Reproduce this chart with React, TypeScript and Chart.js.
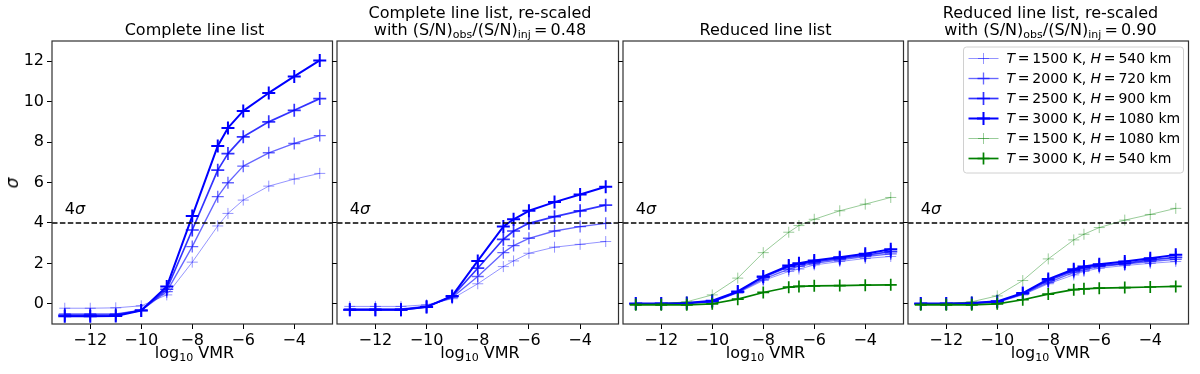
import React, { useEffect, useRef } from 'react';
import { Chart, registerables } from 'chart.js';

Chart.register(...registerables);

// ---------- data ----------
const LOG_VMR = [-13, -12, -11, -10, -9, -8, -7, -6.6, -6, -5, -4, -3];
const X_TICKS = [-12, -10, -8, -6, -4];
const Y_TICKS = [0, 2, 4, 6, 8, 10, 12];
const X_MIN = -13.5;
const X_MAX = -2.5;
const Y_MIN = -1;
const Y_MAX = 13;
const THRESHOLD = 4;
const THRESHOLD_LABEL_X = -13;
const THRESHOLD_LABEL_Y = 4.45;

const SERIES_T = [1500, 2000, 2500, 3000, 1500, 3000];
const SERIES_H = [540, 720, 900, 1080, 1080, 540];

// Complete line list
const COMPLETE_1500 = [-0.22, -0.22, -0.2, -0.1, 0.44, 2.06, 3.85, 4.47, 5.13, 5.82, 6.17, 6.45];
const COMPLETE_2000 = [-0.5, -0.5, -0.5, -0.32, 0.6, 2.83, 5.3, 5.99, 6.81, 7.47, 7.93, 8.32];
const COMPLETE_2500 = [-0.56, -0.56, -0.55, -0.33, 0.72, 3.65, 6.61, 7.43, 8.26, 9.0, 9.57, 10.15];
const COMPLETE_3000 = [-0.62, -0.62, -0.6, -0.33, 0.85, 4.34, 7.81, 8.7, 9.54, 10.43, 11.25, 12.04];

// Complete line list, re-scaled (0.48)
const COMPLETE_RS_1500 = [-0.13, -0.13, -0.13, -0.05, 0.25, 0.99, 1.84, 2.12, 2.5, 2.8, 2.94, 3.08];
const COMPLETE_RS_2000 = [-0.25, -0.25, -0.25, -0.12, 0.31, 1.35, 2.53, 2.88, 3.24, 3.6, 3.82, 3.98];
const COMPLETE_RS_2500 = [-0.3, -0.3, -0.3, -0.15, 0.36, 1.76, 3.19, 3.6, 3.98, 4.31, 4.6, 4.88];
const COMPLETE_RS_3000 = [-0.3, -0.3, -0.3, -0.16, 0.39, 2.12, 3.82, 4.18, 4.6, 5.03, 5.41, 5.79];

// Reduced line list
const REDUCED_1500 = [0, 0, 0.02, 0.08, 0.53, 1.15, 1.6, 1.72, 1.92, 2.09, 2.24, 2.34];
const REDUCED_2000 = [0, 0, 0.02, 0.1, 0.56, 1.22, 1.71, 1.85, 2.0, 2.17, 2.34, 2.47];
const REDUCED_2500 = [0, 0, 0.03, 0.12, 0.58, 1.32, 1.84, 1.95, 2.07, 2.24, 2.4, 2.58];
const REDUCED_3000 = [0.02, 0.02, 0.04, 0.15, 0.61, 1.35, 1.89, 2.0, 2.14, 2.3, 2.47, 2.7];
const REDUCED_1500_H1080 = [0, 0, 0.1, 0.44, 1.27, 2.53, 3.54, 3.87, 4.18, 4.6, 4.93, 5.26];
const REDUCED_3000_H540 = [-0.05, -0.05, -0.05, 0, 0.23, 0.56, 0.82, 0.86, 0.89, 0.9, 0.92, 0.94];

// Reduced line list, re-scaled (0.90)
const REDUCED_RS_1500 = [0, 0, 0.02, 0.06, 0.44, 0.99, 1.43, 1.6, 1.76, 1.89, 2.0, 2.09];
const REDUCED_RS_2000 = [0, 0, 0.02, 0.08, 0.48, 1.05, 1.55, 1.68, 1.84, 1.96, 2.09, 2.2];
const REDUCED_RS_2500 = [0, 0, 0.03, 0.1, 0.5, 1.15, 1.64, 1.78, 1.89, 2.0, 2.17, 2.3];
const REDUCED_RS_3000 = [0.02, 0.02, 0.04, 0.12, 0.53, 1.22, 1.71, 1.84, 1.96, 2.09, 2.25, 2.42];
const REDUCED_RS_1500_H1080 = [0, 0, 0.1, 0.39, 1.15, 2.22, 3.16, 3.44, 3.77, 4.14, 4.42, 4.72];
const REDUCED_RS_3000_H540 = [-0.05, -0.05, -0.05, 0, 0.2, 0.48, 0.7, 0.74, 0.77, 0.8, 0.83, 0.86];

// ---------- styles ----------
const STYLES = [
  { color: 'rgba(0,0,255,0.42)', width: 1.0, radius: 5.5 },
  { color: 'rgba(0,0,255,0.6)', width: 1.35, radius: 6 },
  { color: 'rgba(0,0,255,0.8)', width: 1.7, radius: 6.5 },
  { color: 'rgba(0,0,255,1)', width: 2.0, radius: 6.5 },
  { color: 'rgba(0,128,0,0.4)', width: 1.0, radius: 5.5 },
  { color: 'rgba(0,128,0,1)', width: 1.7, radius: 6 },
];

const FONT = "'DejaVu Sans', sans-serif";
Chart.defaults.font.family = FONT;
Chart.defaults.color = '#000';

const PANEL_LEFT = [52, 337, 623, 908];
const PANEL_RIGHT = [337, 623, 908, 1193];
const AXIS_W = 52;
const PLOT_TOP = 41;
const PLOT_BOTTOM = 324;
const H = 374;

const fmt = (v: number) => (v < 0 ? '\u2212' + Math.abs(v) : String(v));

const framePlugin = {
  id: 'frame',
  afterDraw(chart: any) {
    const { ctx, chartArea } = chart;
    const { left, top, right, bottom } = chartArea;
    ctx.save();
    ctx.strokeStyle = '#303030';
    ctx.lineWidth = 1.2;
    ctx.strokeRect(left, top, right - left, bottom - top);
    ctx.restore();
  },
};

const annotPlugin = {
  id: 'annot',
  afterDatasetsDraw(chart: any) {
    const { ctx } = chart;
    const x = chart.scales.x.getPixelForValue(THRESHOLD_LABEL_X);
    const y = chart.scales.y.getPixelForValue(THRESHOLD_LABEL_Y);
    ctx.save();
    ctx.fillStyle = '#000';
    ctx.textBaseline = 'alphabetic';
    ctx.textAlign = 'left';
    ctx.font = `16px ${FONT}`;
    ctx.fillText(String(THRESHOLD), x, y);
    const w = ctx.measureText(String(THRESHOLD)).width;
    ctx.font = `italic 16px ${FONT}`;
    ctx.fillText('\u03c3', x + w, y);
    ctx.restore();
  },
};

const legendPlugin = {
  id: 'customLegend',
  afterDraw(chart: any) {
    const { ctx, chartArea } = chart;
    const boxW = 220;
    const boxH = 126;
    const x0 = chartArea.right - 5 - boxW;
    const y0 = chartArea.top + 6;
    ctx.save();
    ctx.beginPath();
    const r = 3;
    ctx.moveTo(x0 + r, y0);
    ctx.arcTo(x0 + boxW, y0, x0 + boxW, y0 + boxH, r);
    ctx.arcTo(x0 + boxW, y0 + boxH, x0, y0 + boxH, r);
    ctx.arcTo(x0, y0 + boxH, x0, y0, r);
    ctx.arcTo(x0, y0, x0 + boxW, y0, r);
    ctx.closePath();
    ctx.fillStyle = 'rgba(255,255,255,0.85)';
    ctx.fill();
    ctx.strokeStyle = '#d0d0d0';
    ctx.lineWidth = 1;
    ctx.stroke();
    SERIES_T.forEach((t, k) => {
      const st = STYLES[k];
      const cy = y0 + 11.5 + 20 * k;
      const lx0 = x0 + 5;
      const lx1 = x0 + 35;
      const cx = (lx0 + lx1) / 2;
      ctx.strokeStyle = st.color;
      ctx.lineWidth = st.width;
      ctx.beginPath();
      ctx.moveTo(lx0, cy);
      ctx.lineTo(lx1, cy);
      ctx.stroke();
      ctx.beginPath();
      ctx.moveTo(cx, cy - st.radius);
      ctx.lineTo(cx, cy + st.radius);
      ctx.moveTo(cx - st.radius, cy);
      ctx.lineTo(cx + st.radius, cy);
      ctx.stroke();
      const segs = [
        { s: 'T', it: true },
        { s: '\u2009=\u2009' + t + ' K, ', it: false },
        { s: 'H', it: true },
        { s: '\u2009=\u2009' + SERIES_H[k] + ' km', it: false },
      ];
      let tx = x0 + 43;
      ctx.fillStyle = '#000';
      ctx.textBaseline = 'middle';
      ctx.textAlign = 'left';
      segs.forEach((sg) => {
        ctx.font = `${sg.it ? 'italic ' : ''}14px ${FONT}`;
        ctx.fillText(sg.s, tx, cy + 1);
        tx += ctx.measureText(sg.s).width;
      });
    });
    ctx.restore();
  },
};

const PANEL_DATA = [
  [COMPLETE_1500, COMPLETE_2000, COMPLETE_2500, COMPLETE_3000],
  [COMPLETE_RS_1500, COMPLETE_RS_2000, COMPLETE_RS_2500, COMPLETE_RS_3000],
  [REDUCED_1500, REDUCED_2000, REDUCED_2500, REDUCED_3000, REDUCED_1500_H1080, REDUCED_3000_H540],
  [REDUCED_RS_1500, REDUCED_RS_2000, REDUCED_RS_2500, REDUCED_RS_3000, REDUCED_RS_1500_H1080, REDUCED_RS_3000_H540],
];

function Panel({ idx }: { idx: number }) {
  const ref = useRef<HTMLCanvasElement>(null);
  const width = PANEL_RIGHT[idx] - PANEL_LEFT[idx];
  useEffect(() => {
    const series = PANEL_DATA[idx];
    const n = series.length;
    const datasets: any[] = series.map((vals, k) => ({
      data: vals.map((v, i) => ({ x: LOG_VMR[i], y: v })),
      borderColor: STYLES[k].color,
      backgroundColor: STYLES[k].color,
      borderWidth: STYLES[k].width,
      borderJoinStyle: 'round',
      pointStyle: 'cross',
      pointRadius: STYLES[k].radius,
      pointBorderWidth: STYLES[k].width,
      pointBorderColor: STYLES[k].color,
      tension: 0,
      order: n + 1 - k,
    }));
    datasets.push({
      data: [
        { x: X_MIN, y: THRESHOLD },
        { x: X_MAX, y: THRESHOLD },
      ],
      borderColor: '#000',
      borderWidth: 1.5,
      borderDash: [5.5, 2.4],
      pointRadius: 0,
      order: 0,
    });
    const gridOpts = {
      display: true,
      drawOnChartArea: false,
      drawTicks: true,
      tickLength: 5,
      color: '#000',
      lineWidth: 1,
    };
    const plugins: any[] = [framePlugin, annotPlugin];
    if (idx === 3) plugins.push(legendPlugin);
    const chart = new Chart(ref.current as HTMLCanvasElement, {
      type: 'line',
      data: { datasets },
      plugins,
      options: {
        responsive: true,
        maintainAspectRatio: false,
        animation: false,
        events: [],
        layout: { padding: { top: PLOT_TOP, right: 4, left: 0, bottom: 0 } },
        plugins: { legend: { display: false }, tooltip: { enabled: false } },
        scales: {
          x: {
            type: 'linear',
            min: X_MIN,
            max: X_MAX,
            afterBuildTicks: (s: any) => {
              s.ticks = X_TICKS.map((v) => ({ value: v }));
            },
            afterFit: (s: any) => {
              s.height = H - PLOT_BOTTOM;
            },
            ticks: {
              font: { size: 16 },
              color: '#000',
              padding: 2,
              maxRotation: 0,
              autoSkip: false,
              callback: (v: any) => fmt(Number(v)),
            },
            grid: gridOpts,
            border: { display: false },
          },
          y: {
            type: 'linear',
            min: Y_MIN,
            max: Y_MAX,
            afterBuildTicks: (s: any) => {
              s.ticks = Y_TICKS.map((v) => ({ value: v }));
            },
            afterFit: (s: any) => {
              s.width = AXIS_W;
            },
            ticks: {
              display: idx === 0,
              font: { size: 16 },
              color: '#000',
              padding: 3,
              callback: (v: any) => fmt(Number(v)),
            },
            grid: gridOpts,
            border: { display: false },
          },
        },
      } as any,
    });
    return () => chart.destroy();
  }, [idx]);
  return (
    <div
      style={{
        position: 'absolute',
        left: PANEL_LEFT[idx] - AXIS_W,
        top: 0,
        width: AXIS_W + width + 4,
        height: H,
      }}
    >
      <canvas ref={ref} />
    </div>
  );
}

const subStyle: React.CSSProperties = { fontSize: '11px', verticalAlign: '-3px', lineHeight: 0 };

const TITLES: React.ReactNode[] = [
  <div>Complete line list</div>,
  <>
    <div>Complete line list, re-scaled</div>
    <div>
      with (S/N)<span style={subStyle}>obs</span>/(S/N)<span style={subStyle}>inj</span>{'\u2009=\u20090.48'}
    </div>
  </>,
  <div>Reduced line list</div>,
  <>
    <div>Reduced line list, re-scaled</div>
    <div>
      with (S/N)<span style={subStyle}>obs</span>/(S/N)<span style={subStyle}>inj</span>{'\u2009=\u20090.90'}
    </div>
  </>,
];

export default function App() {
  useEffect(() => {
    document.body.style.margin = '0';
  }, []);
  return (
    <div style={{ position: 'relative', width: 1200, height: H, fontFamily: FONT, color: '#000', background: '#fff', overflow: 'hidden' }}>
      {[0, 1, 2, 3].map((i) => (
        <Panel key={'p' + i} idx={i} />
      ))}
      {[0, 1, 2, 3].map((i) => (
        <div
          key={'t' + i}
          style={{
            position: 'absolute',
            left: PANEL_LEFT[i],
            width: PANEL_RIGHT[i] - PANEL_LEFT[i],
            top: 0,
            height: 38,
            display: 'flex',
            flexDirection: 'column',
            justifyContent: 'flex-end',
            alignItems: 'center',
            fontSize: 16,
            lineHeight: '17px',
            whiteSpace: 'nowrap',
          }}
        >
          {TITLES[i]}
        </div>
      ))}
      {[0, 1, 2, 3].map((i) => (
        <div
          key={'x' + i}
          style={{
            position: 'absolute',
            left: PANEL_LEFT[i],
            width: PANEL_RIGHT[i] - PANEL_LEFT[i],
            top: 344,
            height: 18,
            textAlign: 'center',
            fontSize: 16,
            lineHeight: '18px',
            whiteSpace: 'nowrap',
          }}
        >
          log<span style={subStyle}>10</span> VMR
        </div>
      ))}
      <div
        style={{
          position: 'absolute',
          left: 12,
          top: 183,
          transform: 'translate(-50%, -50%) rotate(-90deg)',
          fontSize: 17,
          fontStyle: 'italic',
          lineHeight: '18px',
        }}
      >
        {'\u03c3'}
      </div>
    </div>
  );
}
